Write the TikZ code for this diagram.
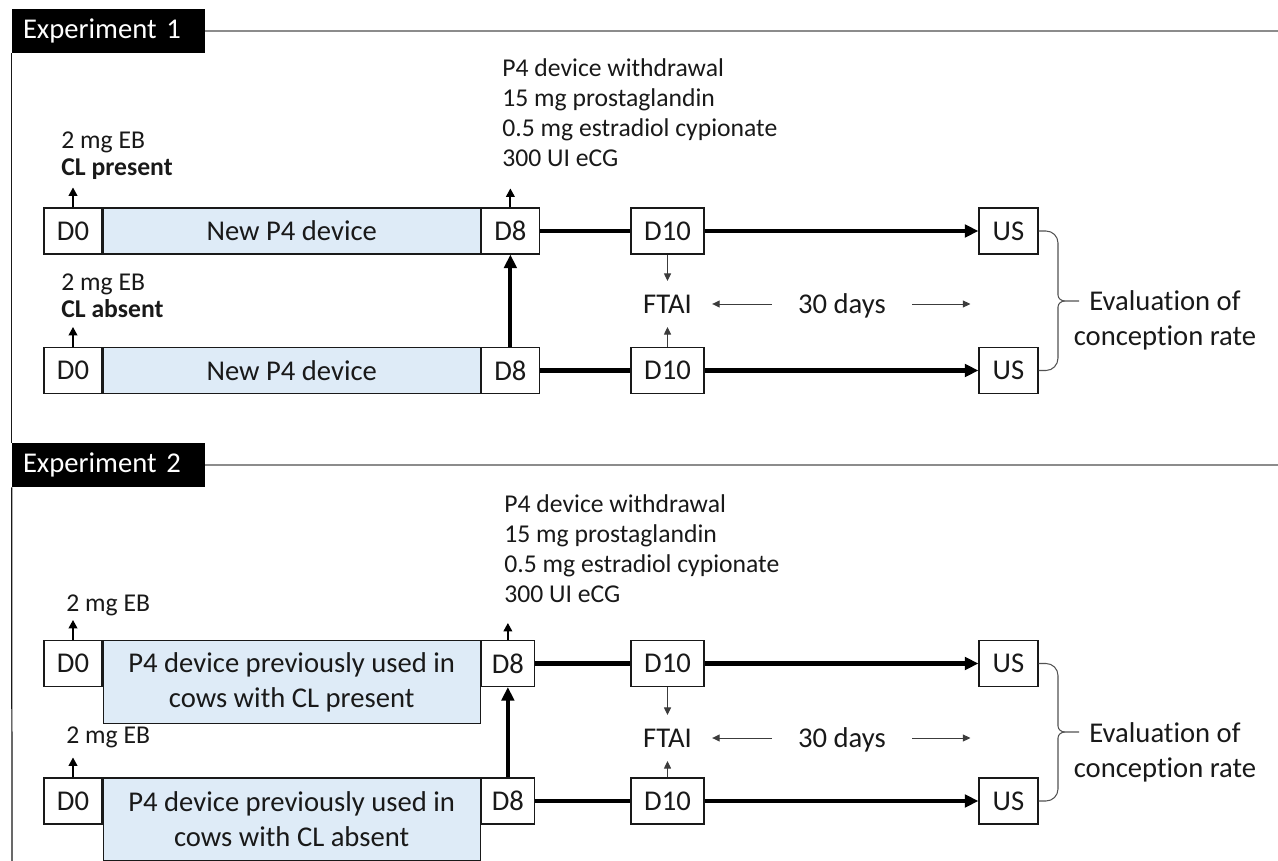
\documentclass[tikz,border=0pt]{standalone}
\usepackage{fontspec}
\setmainfont{Carlito}[Ligatures=NoCommon]
\usepackage{xcolor}
\usepackage{tikz}
\usetikzlibrary{arrows.meta,positioning,calc}
\definecolor{devblue}{RGB}{222,235,247}
\definecolor{ink}{RGB}{25,25,25}
\definecolor{rulegray}{RGB}{140,140,140}
\newcommand{\bigf}{\fontsize{16.3}{19.9}\selectfont}
\newcommand{\smf}{\fontsize{14.6}{17.2}\selectfont}
\tikzset{
  box/.style ={draw=ink,line width=0.7pt,minimum height=0.92cm,inner sep=0pt,font=\bigf,text=ink},
  dev/.style ={box,fill=devblue,align=center,minimum width=7.54cm},
  hdr/.style ={fill=black,text=white,minimum height=0.88cm,inner xsep=0.22cm,text width=3.42cm,align=left,font=\bigf},
  lab/.style ={inner sep=0pt,align=left,font=\smf,text=ink},
  big/.style ={inner sep=0pt,font=\bigf,text=ink},
  thk/.style ={line width=2.3pt,draw=black},
  thkar/.style={thk,-{Triangle[length=0.27cm,width=0.25cm]}},
  upar/.style={line width=1.2pt,-{Triangle[length=0.17cm,width=0.17cm]}},
  thn/.style ={line width=0.55pt,draw=ink!85,-{Triangle[length=0.15cm,width=0.14cm]}},
  brc/.style ={line width=0.6pt,draw=ink!75},
  rule/.style={line width=0.8pt,draw=rulegray},
  vline/.style={line width=0.7pt,draw=ink},
}

\begin{document}
\begin{tikzpicture}[x=0.02cm,y=-0.02cm]
  \useasboundingbox (0,0) rectangle (1278,861);
  \coordinate (rgt) at (1278,0);
  \coordinate (bot) at (12,861);

  % Experiment 1
  \node[hdr] (hdr1) at (108.5,31){Experiment 1};
  \draw[rule] (hdr1.east) -- (hdr1.east -| rgt);
  \node[box,minimum width=1.16cm] (d0a) at (73,231){D0};
  \node[dev,right=0pt of d0a] (pa){New P4 device};
  \node[box,minimum width=1.16cm,right=0pt of pa] (d8a){D8};
  \node[box,minimum width=1.16cm] (d0b) at (73,370.5){D0};
  \node[dev,right=0pt of d0b] (pb){New P4 device};
  \node[box,minimum width=1.16cm,right=0pt of pb] (d8b){D8};
  \node[box,minimum width=1.46cm] (d10a) at (667.5,231){D10};
  \node[box,minimum width=1.46cm] (d10b) at (667.5,370.5){D10};
  \node[box,minimum width=1.18cm] (usa) at (1008.5,231){US};
  \node[box,minimum width=1.18cm] (usb) at (1008.5,370.5){US};

  \node[lab,anchor=west] (eba) at (61,156){2 mg EB\\[-2pt]\textbf{CL present}};
  \node[lab,anchor=west] (ebb) at (61,296){2 mg EB\\[-2pt]\textbf{CL absent}};
  \node[lab,anchor=north west] (rxa) at (502,58){P4 device withdrawal\\15 mg prostaglandin\\0.5 mg estradiol cypionate\\300 UI eCG};
  \node[big,inner xsep=0.4cm,inner ysep=0.27cm] (fta) at (667.5,304){FTAI};
  \node[big,inner xsep=0.52cm,text depth=0pt] (dya) at (842,304){30 days};
  \node[big,align=center] (eva) at (1165,320){Evaluation of\\conception rate};

  \draw[upar] (d0a.north) -- ++(0,-20);
  \draw[upar] (d0b.north) -- ++(0,-20);
  \draw[upar] (d8a.north) -- ++(0,-19);
  \draw[thkar] (d8b.north) -- (d8a.south);
  \draw[thk] (d8a) -- (d10a);
  \draw[thk] (d8b) -- (d10b);
  \draw[thkar] (d10a) -- (usa);
  \draw[thkar] (d10b) -- (usb);
  \draw[thn] (d10a) -- (fta);
  \draw[thn] (d10b) -- (fta);
  \draw[thn] (dya.west) -- (dya.west -| fta.east);
  \draw[thn,shorten >=0.16cm] (dya.east) -- (dya.east -| usa.west);
  % brace to the evaluation text
  \draw[brc] (usa.east) -- (1046,231) to[out=0,in=90] (1058,243) -- (1058,295) to[out=-90,in=180] (1065,301) -- (1079,301);
  \draw[brc] (usb.east) -- (1046,370.5) to[out=0,in=-90] (1058,358) -- (1058,307) to[out=90,in=180] (1065,301);

  % Experiment 2
  \node[hdr] (hdr2) at (108.5,465){Experiment 2};
  \draw[rule] (hdr2.east) -- (hdr2.east -| rgt);
  \draw[vline] (hdr1.south west) -- (hdr2.north west);
  \draw[vline] (hdr2.south west) -- (bot);
  \node[box,minimum width=1.16cm] (d0c) at (73,663.5){D0};
  \node[dev,minimum height=1.66cm,anchor=north west] (pc) at (d0c.north east){P4 device previously used in\\cows with CL present};
  \node[box,minimum width=1.06cm,anchor=north west] (d8c) at (pc.north east){D8};
  \node[box,minimum width=1.16cm] (d0d) at (73,801){D0};
  \node[dev,minimum height=1.66cm,anchor=north west] (pd) at (d0d.north east){P4 device previously used in\\cows with CL absent};
  \node[box,minimum width=1.06cm,anchor=north west] (d8d) at (pd.north east){D8};
  \node[box,minimum width=1.46cm] (d10c) at (667.5,663.5){D10};
  \node[box,minimum width=1.46cm] (d10d) at (667.5,801){D10};
  \node[box,minimum width=1.18cm] (usc) at (1008.5,663.5){US};
  \node[box,minimum width=1.18cm] (usd) at (1008.5,801){US};

  \node[lab,anchor=west] (ebc) at (66,605){2 mg EB};
  \node[lab,anchor=west] (ebd) at (66,737){2 mg EB};
  \node[lab,anchor=north west] (rxc) at (504,494){P4 device withdrawal\\15 mg prostaglandin\\0.5 mg estradiol cypionate\\300 UI eCG};
  \node[big,inner xsep=0.4cm,inner ysep=0.27cm] (ftb) at (667.5,738){FTAI};
  \node[big,inner xsep=0.52cm,text depth=0pt] (dyb) at (842,738){30 days};
  \node[big,align=center] (evb) at (1165,752.5){Evaluation of\\conception rate};

  \draw[upar] (d0c.north) -- ++(0,-20);
  \draw[upar] (d0d.north) -- ++(0,-20);
  \draw[upar] (d8c.north) -- ++(0,-17);
  \draw[thkar] (d8d.north) -- (d8c.south);
  \draw[thk] (d8c) -- (d10c);
  \draw[thk] (d8d) -- (d10d);
  \draw[thkar] (d10c) -- (usc);
  \draw[thkar] (d10d) -- (usd);
  \draw[thn] (d10c) -- (ftb);
  \draw[thn] (d10d) -- (ftb);
  \draw[thn] (dyb.west) -- (dyb.west -| ftb.east);
  \draw[thn,shorten >=0.16cm] (dyb.east) -- (dyb.east -| usc.west);
  \draw[brc] (usc.east) -- (1046,663.5) to[out=0,in=90] (1058,675.5) -- (1058,726) to[out=-90,in=180] (1065,732) -- (1079,732);
  \draw[brc] (usd.east) -- (1046,801) to[out=0,in=-90] (1058,789) -- (1058,738) to[out=90,in=180] (1065,732);
\end{tikzpicture}
\end{document}
